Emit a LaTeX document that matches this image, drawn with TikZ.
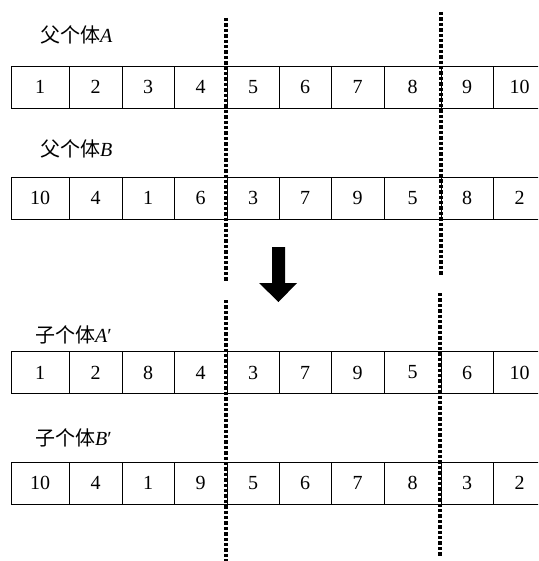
\documentclass[tikz,border=0pt]{standalone}
\usepackage{fontspec}
\setmainfont{Liberation Serif}
\newfontfamily\cjk{Noto Sans CJK SC}
\newcommand\cellrow[3]{%
  \foreach \v [count=\i] in {#3} {
    \pgfmathsetmacro\xl{{11,69,122,174,227,279,331,384,441,493,546}[\i-1]}
    \pgfmathsetmacro\xr{{11,69,122,174,227,279,331,384,441,493,546}[\i]}
    \node[cell, minimum width={(\xr-\xl)*1pt}] (#1\i) at ({(\xl+\xr)/2},#2) {\v};
  }}
\begin{document}
\begin{tikzpicture}[x=1pt,y=-1pt,
  cell/.style={draw=black, line width=0.8pt, minimum height=42pt, inner sep=0pt,
    font=\fontsize{20}{20}\selectfont},
  lbl/.style={anchor=west, inner sep=0pt, font=\fontsize{20}{20}\selectfont},
  cut/.style={line width=3.4pt, dash pattern=on 3.4pt off 2pt},
  bigarrow/.style={fill=black}]
\useasboundingbox (0,0) rectangle (538,561);
\clip (0,0) rectangle (538,561);
\fill[white] (0,0) rectangle (538,561);

\node[lbl] (la) at (40,35) {{\cjk 父个体}\textit{A}};
\node[lbl] (lb) at (40,149) {{\cjk 父个体}\textit{B}};
\node[lbl] (lc) at (35,335) {{\cjk 子个体}\textit{A}′};
\node[lbl] (ld) at (35,438) {{\cjk 子个体}\textit{B}′};

\cellrow{a}{87}{1,2,3,4,5,6,7,8,9,10}
\cellrow{b}{198}{10,4,1,6,3,7,9,5,8,2}
\cellrow{c}{372.5}{1,2,8,4,3,7,9,5,6,10}
\cellrow{d}{483}{10,4,1,9,5,6,7,8,3,2}

\coordinate (u1t) at (226,18);  \coordinate (u1b) at (226,282);
\coordinate (u2t) at (441,12);  \coordinate (u2b) at (441,275);
\coordinate (l1t) at (226,300); \coordinate (l1b) at (226,561);
\coordinate (l2t) at (440,293); \coordinate (l2b) at (440,557);
\draw[cut] (u1t) -- (u1b);
\draw[cut] (u2t) -- (u2b);
\draw[cut] (l1t) -- (l1b);
\draw[cut] (l2t) -- (l2b);

\fill[bigarrow] (272,247) -- (285,247) -- (285,283) -- (297,283) -- (278.5,302)
  -- (259,283) -- (272,283) -- cycle;
\end{tikzpicture}
\end{document}
